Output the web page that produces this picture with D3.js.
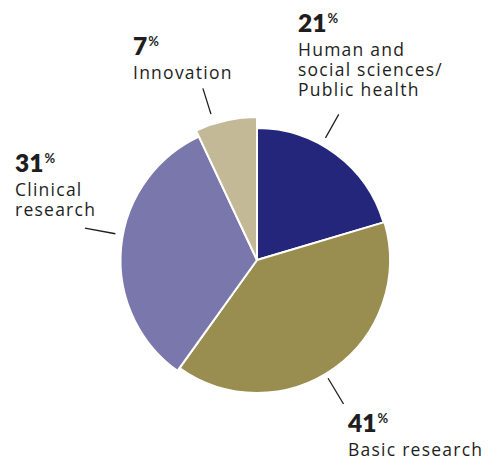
<!DOCTYPE html>
<html><head><meta charset="utf-8">
<script src="https://cdn.jsdelivr.net/npm/d3@7"></script>
<style>body{margin:0;background:#fff}svg{display:block}</style>
</head><body><svg id="c" width="496" height="460"></svg>
<script>
// ---- data ----
const categories = ["Human and social sciences/Public health", "Basic research", "Clinical research", "Innovation"];
const labelLines = [["Human and", "social sciences/", "Public health"], ["Basic research"], ["Clinical", "research"], ["Innovation"]];
const percentLabels = [21, 41, 31, 7];
const sliceValues = [20.4, 39.5, 33.1, 7.0]; // slice sizes as drawn
const colors = ["#23267a", "#9a8d50", "#7a77ad", "#c4b996"];

// ---- layout ----
const cx = 257, cy = 260;
const outerR = [132, 133, 136.5, 143];
const leader = [ {a: 29.3, r1: 140, r2: 167}, {a: 149, r1: 138, r2: 168}, {a: -79.5, r1: 144, r2: 175}, {a: -17.5, r1: 153, r2: 180} ];
const labelPos = [ {x: 298, y: 32}, {x: 348, y: 432}, {x: 15, y: 172}, {x: 133, y: 55} ];
const font = "'Open Sans', Lato, sans-serif";

const svg = d3.select("#c");
const g = svg.append("g").attr("transform", `translate(${cx},${cy})`);
const pie = d3.pie().sort(null).value(d => d)(sliceValues);
g.selectAll("path.slice").data(pie).join("path")
  .attr("class", "slice")
  .attr("d", (d, i) => d3.arc().innerRadius(0).outerRadius(outerR[i])(d))
  .attr("fill", (d, i) => colors[i])
  .attr("stroke", "#fff").attr("stroke-width", 2).attr("stroke-linejoin", "round");

const rad = a => a * Math.PI / 180;
g.selectAll("line.lead").data(leader).join("line")
  .attr("class", "lead")
  .attr("x1", d => d.r1 * Math.sin(rad(d.a))).attr("y1", d => -d.r1 * Math.cos(rad(d.a)))
  .attr("x2", d => d.r2 * Math.sin(rad(d.a))).attr("y2", d => -d.r2 * Math.cos(rad(d.a)))
  .attr("stroke", "#1e1e1e").attr("stroke-width", 1.3);

categories.forEach((c, i) => {
  const p = labelPos[i];
  const t = svg.append("text").attr("x", p.x).attr("y", p.y).attr("fill", "#1e1e1e").style("font-family", "Lato, sans-serif");
  t.append("tspan").text(percentLabels[i]).attr("font-size", 24.5).attr("font-weight", 800);
  t.append("tspan").text("%").attr("font-size", 13).attr("font-weight", 700).attr("dy", -9).attr("dx", 1);
  const body = svg.append("text").attr("fill", "#1e1e1e").style("font-family", font)
    .attr("font-size", 17.5).attr("letter-spacing", 1.25);
  labelLines[i].forEach((ln, k) => {
    body.append("tspan").attr("x", p.x).attr("y", p.y + 23.5 + k * 20).text(ln);
  });
});
</script></body></html>
